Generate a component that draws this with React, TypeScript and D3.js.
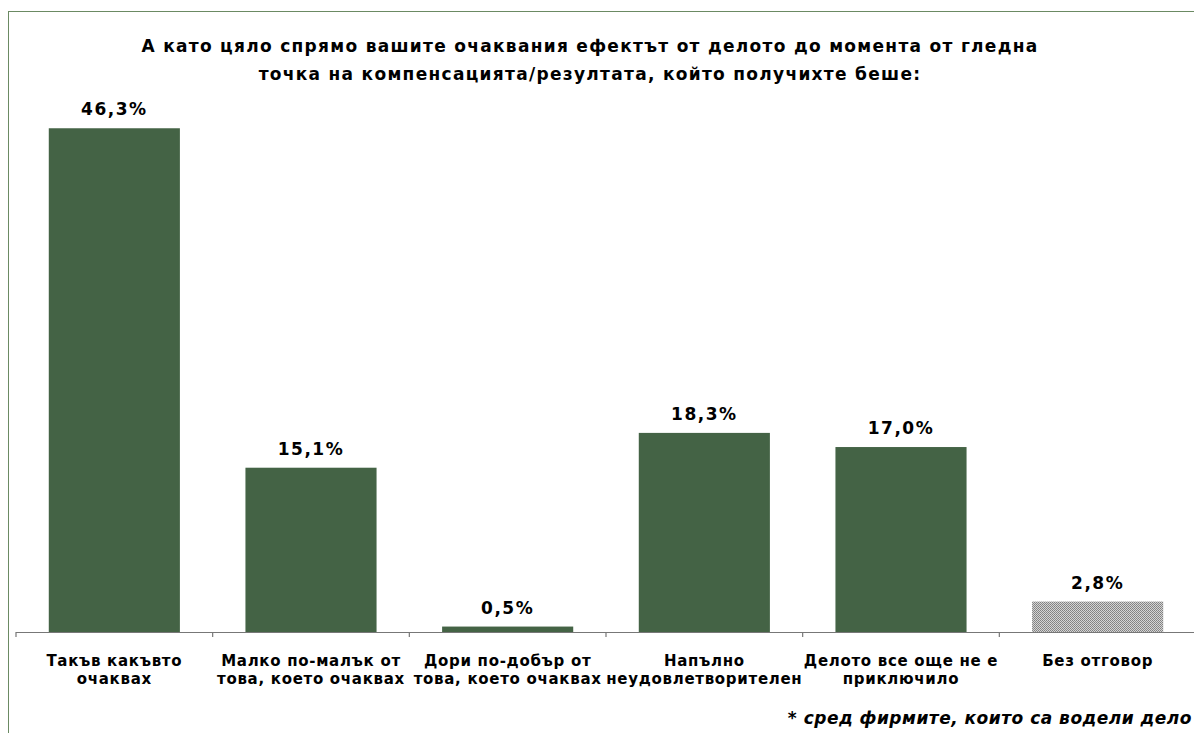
import React from "react";
import * as d3 from "d3";

const TITLE_LINES = [
  "А като цяло спрямо вашите очаквания ефектът от делото до момента от гледна",
  "точка на компенсацията/резултата, който получихте беше:",
];
const CATEGORIES = [
  ["Такъв какъвто", "очаквах"],
  ["Малко по-малък от", "това, което очаквах"],
  ["Дори по-добър от", "това, което очаквах"],
  ["Напълно", "неудовлетворителен"],
  ["Делото все още не е", "приключило"],
  ["Без отговор"],
];
const VALUES = [46.3, 15.1, 0.5, 18.3, 17.0, 2.8];
const VALUE_LABELS = ["46,3%", "15,1%", "0,5%", "18,3%", "17,0%", "2,8%"];
const PATTERNED = [false, false, false, false, false, true];
const FOOTNOTE = "* сред фирмите, които са водели дело";

const W = 1194;
const H = 733;
const FONT = "'DejaVu Sans', Verdana, sans-serif";
const BAR = "#446345";

export default function App() {
  const x = d3
    .scaleBand<number>()
    .domain(d3.range(VALUES.length))
    .range([16, 1196])
    .paddingInner(1 / 3)
    .paddingOuter(1 / 6);
  const y = d3.scaleLinear().domain([0, 50]).range([632, 88]);
  const step = x.step();
  const ticks = d3.range(VALUES.length + 1).map((i) => 16 + i * step);

  return (
    <svg
      width={W}
      height={H}
      style={{ position: "fixed", left: 0, top: 0, background: "#fff" }}
    >
      <defs>
        <pattern id="dots" width="2" height="2" patternUnits="userSpaceOnUse">
          <rect width="2" height="2" fill="#d4d4d4" />
          <rect width="1" height="1" fill="#808080" />
          <rect x="1" y="1" width="1" height="1" fill="#8a8a8a" />
        </pattern>
      </defs>
      <rect x={8.5} y={11.5} width={1300} height={900} fill="#fff" stroke="#6b8a63" strokeWidth={1} />
      {TITLE_LINES.map((t, i) => (
        <text
          key={i}
          x={590}
          y={52 + i * 27.5}
          textAnchor="middle"
          fontFamily={FONT}
          fontWeight="bold"
          fontSize={17}
          letterSpacing={1.3}
          fill="#000"
        >
          {t}
        </text>
      ))}
      {VALUES.map((v, i) => (
        <g key={i}>
          <rect
            x={x(i)!}
            y={y(v)}
            width={x.bandwidth()}
            height={y(0) - y(v)}
            fill={PATTERNED[i] ? "url(#dots)" : BAR}
          />
          <text
            x={x(i)! + x.bandwidth() / 2}
            y={y(v) - 13}
            textAnchor="middle"
            fontFamily={FONT}
            fontWeight="bold"
            fontSize={17}
            letterSpacing={1.5}
            fill="#000"
          >
            {VALUE_LABELS[i]}
          </text>
          {CATEGORIES[i].map((line, j) => (
            <text
              key={j}
              x={x(i)! + x.bandwidth() / 2}
              y={665.5 + j * 18.5}
              textAnchor="middle"
              fontFamily={FONT}
              fontWeight="bold"
              fontSize={15}
              letterSpacing={0.7}
              fill="#000"
            >
              {line}
            </text>
          ))}
        </g>
      ))}
      <line x1={16} x2={1196} y1={632.5} y2={632.5} stroke="#777" strokeWidth={1.2} />
      {ticks.map((t, i) => (
        <line key={i} x1={t} x2={t} y1={632} y2={637} stroke="#777" strokeWidth={1.2} />
      ))}
      <text
        x={1192}
        y={724}
        textAnchor="end"
        fontFamily={FONT}
        fontWeight="bold"
        fontStyle="italic"
        fontSize={17}
        letterSpacing={0.5}
        fill="#000"
      >
        {FOOTNOTE}
      </text>
    </svg>
  );
}
